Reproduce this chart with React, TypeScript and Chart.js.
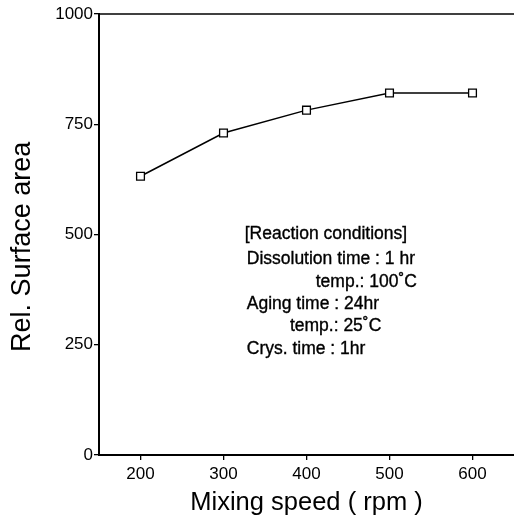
import React, { useEffect, useRef } from "react";
import { Chart, registerables } from "chart.js";

Chart.register(...registerables);

const speeds = [200, 300, 400, 500, 600];
const surfaceArea = [632, 730, 782, 821, 821];
const xTicks = [200, 300, 400, 500, 600];
const yTicks = [0, 250, 500, 750, 1000];
const yTitle = "Rel. Surface area";
const xTitle = "Mixing speed ( rpm )";
const conditionLines = [
  "[Reaction conditions]",
  "Dissolution time : 1 hr",
  "temp.: 100˚C",
  "Aging time : 24hr",
  "temp.: 25˚C",
  "Crys. time : 1hr",
];

const FONT = "'Liberation Sans', Arial, Helvetica, sans-serif";

const annotationPlugin = {
  id: "annot",
  afterDraw(chart: any) {
    const { ctx, chartArea, scales } = chart;
    const xs = scales.x;
    const ys = scales.y;
    ctx.save();
    // top frame line
    ctx.strokeStyle = "#000";
    ctx.lineWidth = 1.5;
    ctx.beginPath();
    ctx.moveTo(chartArea.left, chartArea.top);
    ctx.lineTo(chartArea.right, chartArea.top);
    ctx.stroke();

    // y axis title (placed slightly below the plot's centre, as in the source)
    ctx.save();
    ctx.fillStyle = "#000";
    ctx.font = `27px ${FONT}`;
    ctx.textAlign = "center";
    ctx.textBaseline = "middle";
    ctx.translate(23, ys.getPixelForValue(472));
    ctx.rotate(-Math.PI / 2);
    ctx.fillText(yTitle, 0, 0);
    ctx.restore();

    ctx.fillStyle = "#000";
    ctx.strokeStyle = "#000";
    ctx.lineWidth = 0.35;
    ctx.font = `17.5px ${FONT}`;
    ctx.textBaseline = "middle";
    const leftX = xs.getPixelForValue(328);
    const rightX = xs.getPixelForValue(533);
    const indentX = xs.getPixelForValue(380);
    const yVals = [500, 443, 393, 343, 293, 241];
    conditionLines.forEach((t, i) => {
      const y = ys.getPixelForValue(yVals[i]);
      let x = leftX;
      if (i === 2) {
        ctx.textAlign = "right";
        x = rightX;
      } else if (i === 4) {
        ctx.textAlign = "left";
        x = indentX;
      } else {
        ctx.textAlign = "left";
        x = i === 0 ? leftX - 2 : leftX;
      }
      ctx.fillText(t, x, y);
      ctx.strokeText(t, x, y);
    });
    ctx.restore();
  },
};

export default function App() {
  const ref = useRef<HTMLCanvasElement>(null);
  useEffect(() => {
    if (!ref.current) return;
    const chart = new Chart(ref.current, {
      type: "line",
      data: {
        datasets: [
          {
            data: speeds.map((s, i) => ({ x: s, y: surfaceArea[i] })),
            borderColor: "#000",
            borderWidth: 1.5,
            pointStyle: "rect",
            pointRadius: 5.5,
            pointBackgroundColor: "#fff",
            pointBorderColor: "#000",
            pointBorderWidth: 1.3,
            tension: 0,
          },
        ],
      },
      options: {
        animation: false,
        responsive: false,
        devicePixelRatio: 1,
        layout: { autoPadding: false, padding: { top: 14, right: 0, bottom: 0, left: 0 } },
        plugins: { legend: { display: false }, tooltip: { enabled: false } },
        scales: {
          x: {
            type: "linear",
            min: 150,
            max: 650,
            afterBuildTicks: (s: any) => {
              s.ticks = xTicks.map((v) => ({ value: v }));
            },
            afterFit: (s: any) => {
              s.height = 64;
            },
            grid: {
              drawOnChartArea: false,
              drawTicks: true,
              tickLength: 5,
              color: "#000",
              lineWidth: 1.3,
            },
            border: { display: true, color: "#000", width: 2 },
            ticks: {
              color: "#000",
              padding: 4,
              maxRotation: 0,
              callback: (v: any) => String(v),
              font: { family: FONT, size: 17 },
            },
            title: {
              display: true,
              text: xTitle,
              color: "#000",
              font: { family: FONT, size: 25.5 },
              padding: { top: 0, bottom: 1 },
            },
          },
          y: {
            type: "linear",
            min: 0,
            max: 1000,
            afterBuildTicks: (s: any) => {
              s.ticks = yTicks.map((v) => ({ value: v }));
            },
            afterFit: (s: any) => {
              s.width = 99;
            },
            grid: {
              drawOnChartArea: false,
              drawTicks: true,
              tickLength: 5,
              color: "#000",
              lineWidth: 1.3,
            },
            border: { display: true, color: "#000", width: 2 },
            ticks: {
              color: "#000",
              padding: 1,
              callback: (v: any) => String(v),
              font: { family: FONT, size: 17 },
            },
          },
        },
      },
      plugins: [annotationPlugin],
    });
    return () => chart.destroy();
  }, []);
  return (
    <div style={{ position: "fixed", left: 0, top: 0, width: 514, height: 519, background: "#fff" }}>
      <canvas ref={ref} width={514} height={519} style={{ width: 514, height: 519, display: "block" }} />
    </div>
  );
}
